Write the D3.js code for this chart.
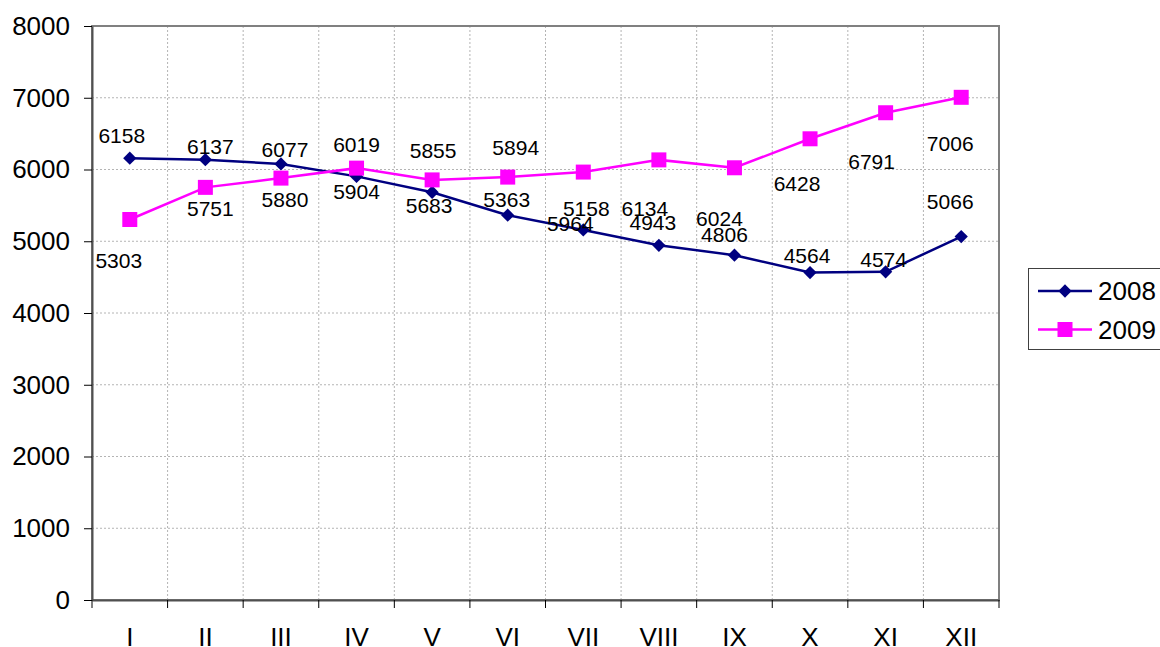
<!DOCTYPE html>
<html>
<head>
<meta charset="utf-8">
<script src="https://cdn.jsdelivr.net/npm/d3@7"></script>
<style>
  body { margin: 0; background: #fff; }
  text { font-family: Arial, "Liberation Sans", sans-serif; fill: #000; }
</style>
</head>
<body>
<svg width="1160" height="647"></svg>

<script>

var months = ["I", "II", "III", "IV", "V", "VI", "VII", "VIII", "IX", "X", "XI", "XII"];
var values2008 = [6158, 6137, 6077, 5904, 5683, 5363, 5158, 4943, 4806, 4564, 4574, 5066];
var values2009 = [5303, 5751, 5880, 6019, 5855, 5894, 5964, 6134, 6024, 6428, 6791, 7006];
var yTicks = [0, 1000, 2000, 3000, 4000, 5000, 6000, 7000, 8000];

// where Excel left each data label, relative to its point: [dx, dy of baseline]
var labelShift2008 = [[-8, -15], [5, -6], [4, -7], [0, 23], [-3, 21], [-1, -8],
                      [3, -14], [-6, -15], [-10, -13], [-3, -10], [-2, -5], [-11, -28]];
var labelShift2009 = [[-11, 48], [5, 29], [4, 29], [0, -16], [1, -22], [8, -22],
                      [-13, 59], [-14, 56], [-15, 58], [-13, 52], [-14, 56], [-11, 54]];

// Excel's diamond is a square turned 45 degrees
var series = [
  {name: "2008", values: values2008, color: "#000080", size: 88, rotate: 45, shift: labelShift2008},
  {name: "2009", values: values2009, color: "#ff00ff", size: 225, rotate: 0, shift: labelShift2009}
];

var plotL = 92, plotR = 999, plotT = 26, plotB = 600;

var svg = d3.select("svg");

var x = d3.scaleBand().domain(months).range([plotL, plotR]).padding(0);
var y = d3.scaleLinear().domain([0, 8000]).range([plotB, plotT]);
var cx = function(d, i) { return x(months[i]) + x.bandwidth() / 2; };

// grid
svg.append("g")
  .selectAll("line")
  .data(yTicks.slice(1, -1))
  .enter().append("line")
    .attr("x1", plotL).attr("x2", plotR)
    .attr("y1", y).attr("y2", y)
    .attr("stroke", "#b4b4b4")
    .attr("stroke-dasharray", "2,2");

svg.append("g")
  .selectAll("line")
  .data(months.slice(1))
  .enter().append("line")
    .attr("x1", function(d) { return x(d); }).attr("x2", function(d) { return x(d); })
    .attr("y1", plotT).attr("y2", plotB)
    .attr("stroke", "#b4b4b4")
    .attr("stroke-dasharray", "2,2");

// plot frame
svg.append("rect")
    .attr("x", plotL).attr("y", plotT)
    .attr("width", plotR - plotL).attr("height", plotB - plotT)
    .attr("fill", "none")
    .attr("stroke", "#808080")
    .attr("stroke-width", 2);

// y axis
var yAxis = svg.append("g")
    .attr("transform", "translate(" + plotL + ",0)")
    .call(d3.axisLeft(y).tickValues(yTicks).tickFormat(d3.format("d"))
      .tickSize(8).tickPadding(14).tickSizeOuter(0));
yAxis.select(".domain").attr("stroke", "#505050").attr("stroke-width", 2);
yAxis.selectAll(".tick line").attr("stroke", "#000");
yAxis.selectAll("text").style("font-size", "26px").attr("fill", "#000");

// x axis: labels centred in each band, ticks on band edges
var xAxis = svg.append("g")
    .attr("transform", "translate(0," + plotB + ")")
    .call(d3.axisBottom(x).tickSize(0).tickPadding(28).tickSizeOuter(0));
xAxis.select(".domain").attr("stroke", "#505050").attr("stroke-width", 2);
xAxis.selectAll("text").style("font-size", "26px").attr("fill", "#000");

svg.append("g")
  .selectAll("line")
  .data(months.map(function(d) { return x(d); }).concat([plotR]))
  .enter().append("line")
    .attr("x1", function(d) { return d; }).attr("x2", function(d) { return d; })
    .attr("y1", plotB).attr("y2", plotB + 8)
    .attr("stroke", "#000");

// lines and markers
var line = d3.line()
    .x(cx)
    .y(function(d) { return y(d); });

series.forEach(function(s) {
  svg.append("path")
      .datum(s.values)
      .attr("fill", "none")
      .attr("stroke", s.color)
      .attr("stroke-width", 2.5)
      .attr("d", line);

  svg.append("g")
    .selectAll("path")
    .data(s.values)
    .enter().append("path")
      .attr("transform", function(d, i) {
        return "translate(" + cx(d, i) + "," + y(d) + ") rotate(" + s.rotate + ")";
      })
      .attr("d", d3.symbol().type(d3.symbolSquare).size(s.size))
      .attr("fill", s.color);
});

// data labels
series.forEach(function(s) {
  svg.append("g")
    .selectAll("text")
    .data(s.values)
    .enter().append("text")
      .attr("x", function(d, i) { return cx(d, i) + s.shift[i][0]; })
      .attr("y", function(d, i) { return y(d) + s.shift[i][1]; })
      .attr("text-anchor", "middle")
      .style("font-size", "21px")
      .text(function(d) { return d; });
});

// legend
var legend = svg.append("g");
legend.append("rect")
    .attr("x", 1028.5).attr("y", 268.5)
    .attr("width", 150).attr("height", 81)
    .attr("fill", "#fff")
    .attr("stroke", "#404040")
    .attr("stroke-width", 1);

var item = legend.selectAll("g")
  .data(series)
  .enter().append("g")
    .attr("transform", function(d, i) { return "translate(0," + (291 + i * 38.5) + ")"; });

item.append("line")
    .attr("x1", 1038).attr("x2", 1092)
    .attr("stroke", function(d) { return d.color; })
    .attr("stroke-width", 2.5);

item.append("path")
    .attr("transform", function(d) { return "translate(1065,0) rotate(" + d.rotate + ")"; })
    .attr("d", function(d) { return d3.symbol().type(d3.symbolSquare).size(d.size)(); })
    .attr("fill", function(d) { return d.color; });

item.append("text")
    .attr("x", 1098)
    .attr("dy", "0.35em")
    .style("font-size", "26px")
    .text(function(d) { return d.name; });

</script>
</body>
</html>
